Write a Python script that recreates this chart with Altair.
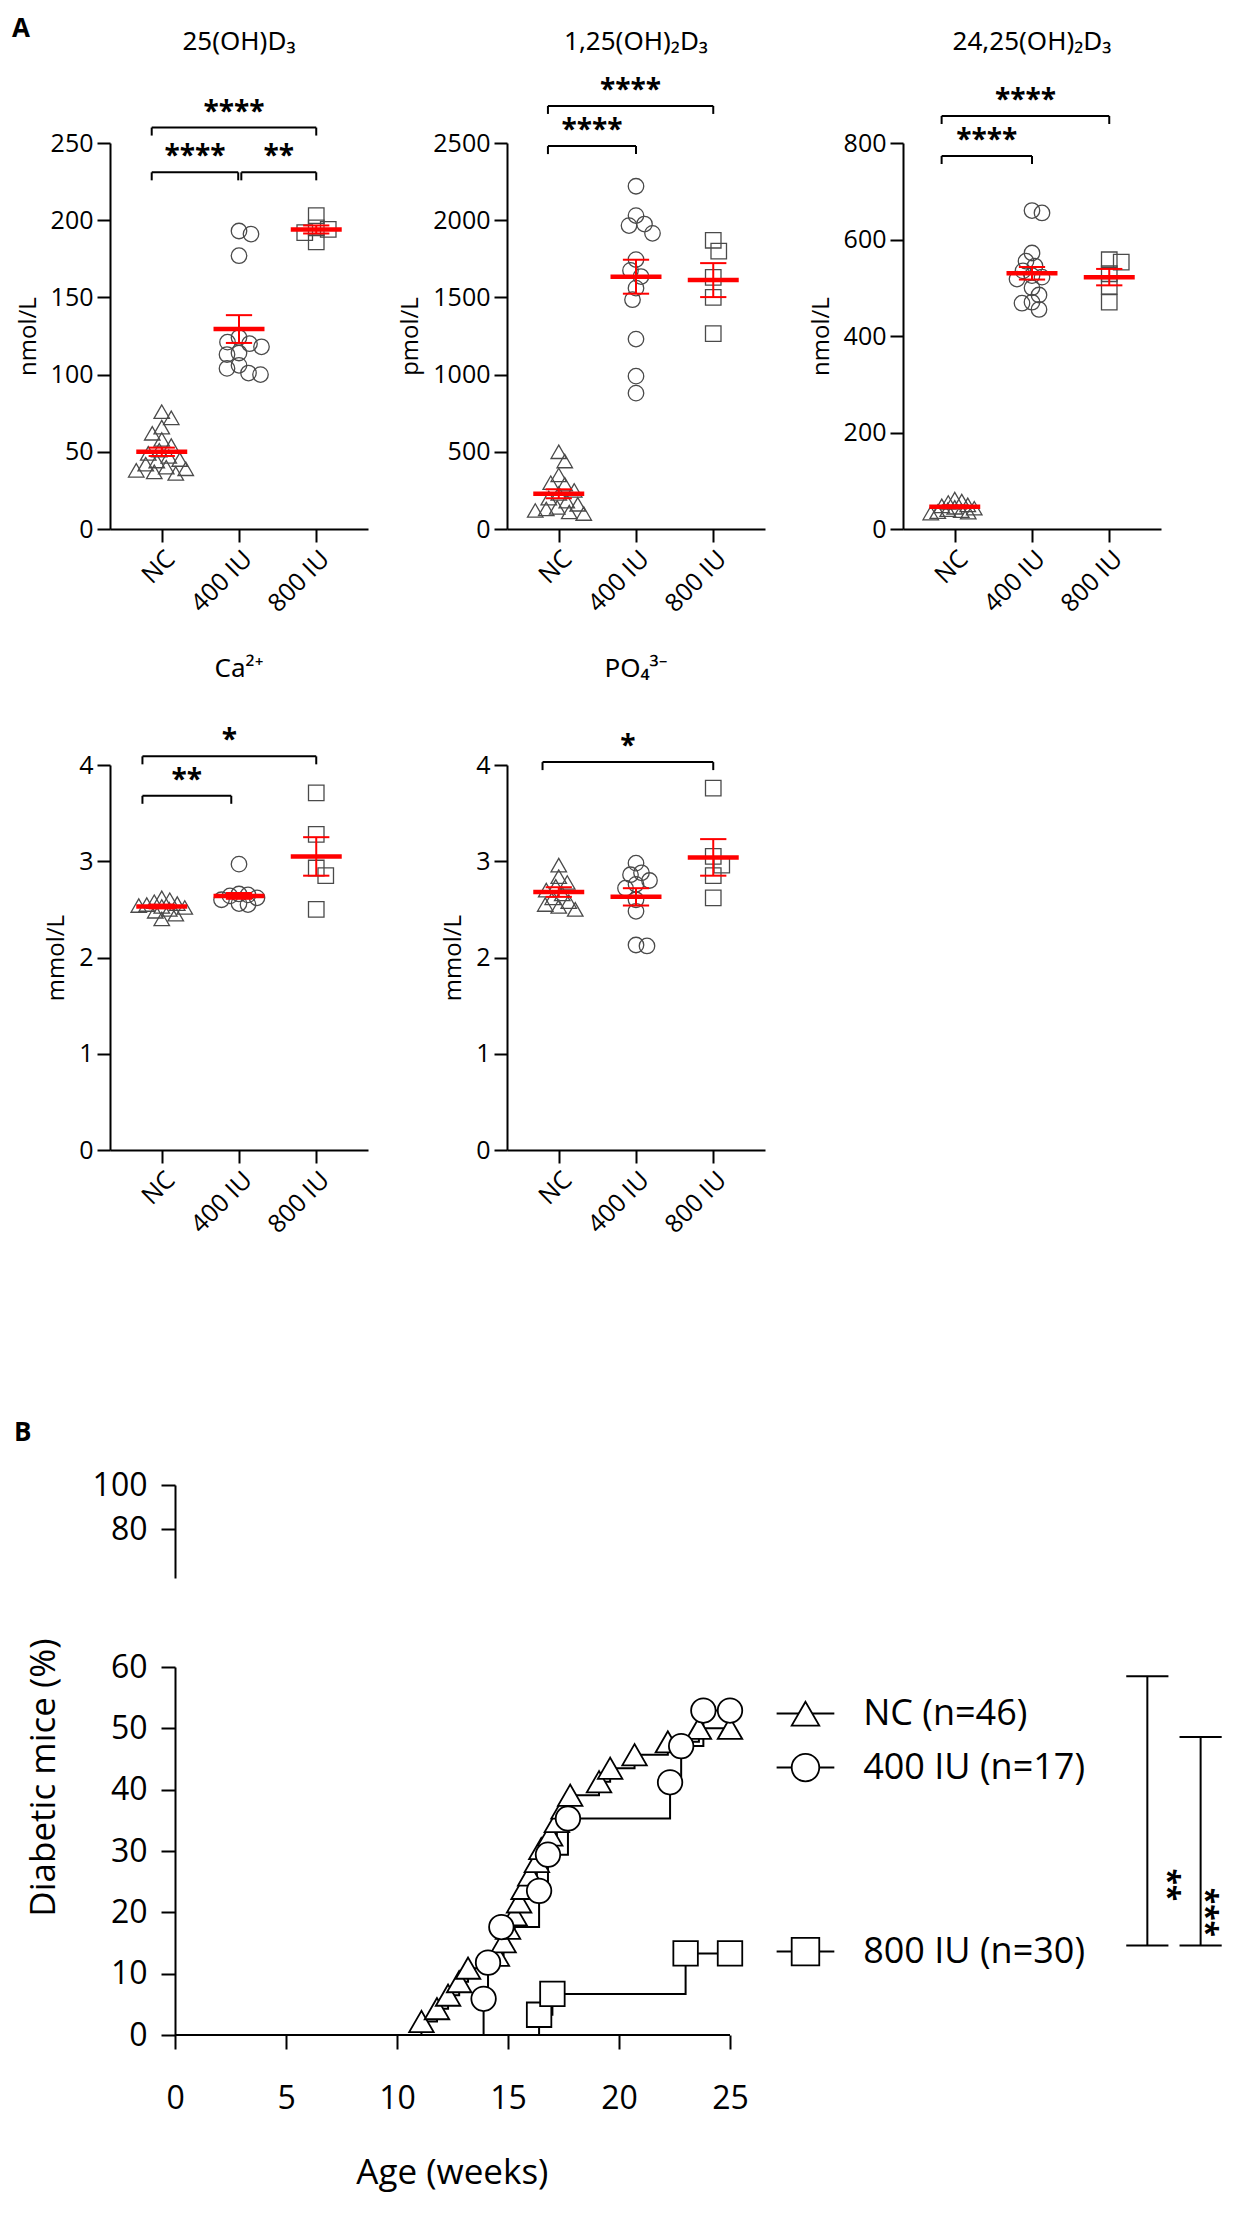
import altair as alt
import pandas as pd

FONT = "Open Sans"
TFONT = "Noto Sans"
RED = "#ff0000"
PTC = "#4a4a4a"
GROUPS = ["NC", "400 IU", "800 IU"]
SHAPES = ["triangle-up", "circle", "square"]

# ---------------- Panel A data ----------------
oh25_nc = [76, 72, 66, 62, 58, 54, 51, 49, 47, 45, 44, 42, 40, 39, 38, 37, 36]
oh25_400 = [193, 191, 177, 124, 121, 120, 118, 114, 113, 106, 104, 101, 100]
oh25_800 = [203, 186, 195, 192, 194]
oh25_mean = [50, 129.5, 194]
oh25_sem = [2.7, 9, 2.6]
oh25_br_x1 = [-0.13, -0.13, 1.03]
oh25_br_x2 = [2.0, 0.99, 2.0]
oh25_br_y = [260, 231, 231]
oh25_br_s = ["****", "****", "**"]

d125_nc = [500, 440, 350, 300, 290, 250, 230, 200, 180, 160, 140, 130, 120, 110, 100]
d125_400 = [2220, 2030, 1965, 1975, 1915, 1745, 1635, 1675, 1560, 1485, 1230, 990, 880]
d125_800 = [1870, 1800, 1630, 1500, 1265]
d125_mean = [228, 1634, 1612]
d125_sem = [29, 110, 110]
d125_br_x1 = [-0.14, -0.14]
d125_br_x2 = [2.0, 1.0]
d125_br_y = [2740, 2480]
d125_br_s = ["****", "****"]

d2425_nc = [62, 58, 55, 50, 48, 45, 43, 40, 38, 36, 35, 33]
d2425_400 = [660, 655, 572, 555, 545, 535, 525, 522, 518, 500, 485, 470, 468, 455]
d2425_800 = [558, 553, 529, 503, 470]
d2425_mean = [46, 530, 522]
d2425_sem = [3, 13, 17]
d2425_br_x1 = [-0.17, -0.17]
d2425_br_x2 = [2.0, 1.0]
d2425_br_y = [856, 773]
d2425_br_s = ["****", "****"]

ca_nc = [2.62, 2.60, 2.58, 2.56, 2.55, 2.54, 2.53, 2.52, 2.50, 2.48, 2.45, 2.40]
ca_400 = [2.97, 2.66, 2.65, 2.64, 2.62, 2.60, 2.56, 2.55]
ca_800 = [3.71, 3.28, 2.93, 2.85, 2.50]
ca_mean = [2.53, 2.64, 3.05]
ca_sem = [0.02, 0.03, 0.2]
ca_br_x1 = [-0.25, -0.25]
ca_br_x2 = [2.0, 0.9]
ca_br_y = [4.09, 3.68]
ca_br_s = ["*", "**"]

po4_nc = [2.96, 2.84, 2.78, 2.74, 2.70, 2.66, 2.62, 2.58, 2.55, 2.53, 2.50]
po4_400 = [2.98, 2.88, 2.86, 2.80, 2.76, 2.72, 2.60, 2.48, 2.13, 2.12]
po4_800 = [3.76, 3.05, 2.96, 2.85, 2.62]
po4_mean = [2.68, 2.63, 3.04]
po4_sem = [0.05, 0.09, 0.19]
po4_br_x1 = [-0.21]
po4_br_x2 = [2.0]
po4_br_y = [4.03]
po4_br_s = ["*"]

# ---------------- Panel B data ----------------
nc_t = [11.1, 11.8, 12.3, 12.8, 13.2, 14.5, 14.8, 15.0, 15.3, 15.5, 15.7, 16.0,
        16.3, 16.5, 16.9, 17.2, 17.5, 17.8, 19.1, 19.6, 20.7, 22.2, 23.6, 25.0]
nc_p = [2.2, 4.3, 6.5, 8.7, 10.9, 13.0, 15.2, 17.4, 19.6, 21.7, 23.9, 26.1,
        28.3, 30.4, 32.6, 34.8, 37.0, 39.1, 41.3, 43.5, 45.7, 47.8, 50.0, 50.0]
iu400_t = [13.9, 14.1, 14.7, 16.4, 16.8, 17.7, 22.3, 22.8, 23.8, 25.0]
iu400_p = [5.9, 11.8, 17.6, 23.5, 29.4, 35.3, 41.2, 47.1, 52.9, 52.9]
iu800_t = [16.4, 17.0, 23.0, 25.0]
iu800_p = [3.3, 6.7, 13.3, 13.3]
legend_labels = ["NC (n=46)", "400 IU (n=17)", "800 IU (n=30)"]
legend_y = [52.4, 43.6, 13.6]
sig_x = [43.8, 46.2]
sig_top = [58.5, 48.6]
sig_bot = [14.6, 14.6]
sig_star_x = [44.7, 46.4]
sig_star_y = [24.5, 20.0]
sig_stars = ["**", "***"]

# ---------------- layout helpers ----------------
AW = 258
XDOM = [-0.67, 2.67]
PPX = AW / (XDOM[1] - XDOM[0])


def swarm(vals, ppu_y, d):
    order = sorted(range(len(vals)), key=lambda i: -vals[i])
    placed = []
    offs = [0.0] * len(vals)
    flip = 1
    for i in order:
        y = vals[i] * ppu_y
        k = 0
        while True:
            cands = [0.0] if k == 0 else [flip * k * 0.5, -flip * k * 0.5]
            ok = None
            for cx in cands:
                if all((cx - a) ** 2 + (y - b) ** 2 >= d * d for a, b in placed):
                    ok = cx
                    break
            if ok is not None:
                break
            k += 1
        if ok != 0:
            flip = -flip
        placed.append((ok, y))
        offs[i] = ok / PPX
    return offs


def frame(W, H, L, R, T, B):
    return alt.Chart(pd.DataFrame({"a": [0]})).mark_rect(opacity=0).encode(
        x=alt.value(-L), x2=alt.value(W + R), y=alt.value(-T), y2=alt.value(H + B)
    )


def panel_a(vals, mean, sem, bx1, bx2, by, bs, title, ytitle, ymax, ystep, H,
            L, R, T, B, title_y, dmin, label=None):
    xs = alt.Scale(domain=XDOM, nice=False, zero=False)
    ys = alt.Scale(domain=[0, ymax], nice=False, zero=False)
    rows = []
    for g, vs in enumerate(vals):
        offs = swarm(vs, H / ymax, dmin[g])
        for v, o in zip(vs, offs):
            rows.append({"x": g + o, "v": v, "grp": GROUPS[g]})
    pts_df = pd.DataFrame(rows)
    ticks = []
    t = 0
    while t <= ymax + 1e-9:
        ticks.append(t)
        t += ystep
    xax = alt.Axis(values=[0, 1, 2], labelExpr="['NC','400 IU','800 IU'][datum.value]",
                   labelAngle=-45, title="")
    yax = alt.Axis(values=ticks, title=ytitle, format="d")

    def X(f):
        return alt.X(f, scale=xs, axis=xax)

    def Y(f):
        return alt.Y(f, scale=ys, axis=yax)

    pts = alt.Chart(pts_df).mark_point(filled=False, size=240, strokeWidth=1.3,
                                       color=PTC, opacity=1).encode(
        x=X("x:Q"), y=Y("v:Q"),
        shape=alt.Shape("grp:N", scale=alt.Scale(domain=GROUPS, range=SHAPES), legend=None),
    )
    mdf = pd.DataFrame({"x1": [g - 0.33 for g in range(3)], "x2": [g + 0.33 for g in range(3)],
                        "m": mean})
    mean_l = alt.Chart(mdf).mark_rule(color=RED, strokeWidth=4.5).encode(
        x=X("x1:Q"), x2="x2:Q", y=Y("m:Q"))
    sdf = pd.DataFrame({"g": [0, 1, 2], "lo": [m - s for m, s in zip(mean, sem)],
                        "hi": [m + s for m, s in zip(mean, sem)]})
    sem_v = alt.Chart(sdf).mark_rule(color=RED, strokeWidth=2).encode(
        x=X("g:Q"), y=Y("lo:Q"), y2="hi:Q")
    crow = []
    for g, (m, s) in enumerate(zip(mean, sem)):
        crow.append({"c1": g - 0.17, "c2": g + 0.17, "cy": m - s})
        crow.append({"c1": g - 0.17, "c2": g + 0.17, "cy": m + s})
    caps = alt.Chart(pd.DataFrame(crow)).mark_rule(color=RED, strokeWidth=2).encode(
        x=X("c1:Q"), x2="c2:Q", y=Y("cy:Q"))
    bdf = pd.DataFrame({"x1": bx1, "x2": bx2, "y": by, "s": bs,
                        "cx": [(a + b) / 2 for a, b in zip(bx1, bx2)]})
    br_h = alt.Chart(bdf).mark_rule(color="black", strokeWidth=2).encode(
        x=X("x1:Q"), x2="x2:Q", y=Y("y:Q"))
    trow = []
    for a, b, yy in zip(bx1, bx2, by):
        trow.append({"tx": a, "y": yy})
        trow.append({"tx": b, "y": yy})
    br_t = alt.Chart(pd.DataFrame(trow)).mark_rule(color="black", strokeWidth=2, y2Offset=8).encode(
        x=X("tx:Q"), y=Y("y:Q"), y2="y:Q")
    stars = alt.Chart(bdf).mark_text(font=FONT, fontSize=28, fontWeight="bold", color="black",
                                     baseline="alphabetic", align="center", dy=-7).encode(
        x=X("cx:Q"), y=Y("y:Q"), text="s:N")
    ttl = alt.Chart(pd.DataFrame({"t": [title]})).mark_text(
        font=TFONT, fontSize=26, color="black", align="center", baseline="alphabetic").encode(
        x=alt.value(AW / 2), y=alt.value(title_y), text="t:N")
    layers = [frame(AW, H, L, R, T, B), pts, mean_l, sem_v, caps, br_h, br_t, stars, ttl]
    if label:
        layers.append(alt.Chart(pd.DataFrame({"t": [label]})).mark_text(
            font=FONT, fontSize=26, fontWeight="bold", color="black", align="left",
            baseline="top").encode(x=alt.value(-98), y=alt.value(-127), text="t:N"))
    return alt.layer(*layers).properties(width=AW, height=H)


H1 = 386
H2 = 385
p1 = panel_a([oh25_nc, oh25_400, oh25_800], oh25_mean, oh25_sem, oh25_br_x1, oh25_br_x2,
             oh25_br_y, oh25_br_s, "25(OH)D₃", "nmol/L", 250, 50, H1, 102, 15, 135, 106, -93,
             [11, 12, 12], label="A")
p2 = panel_a([d125_nc, d125_400, d125_800], d125_mean, d125_sem, d125_br_x1, d125_br_x2,
             d125_br_y, d125_br_s, "1,25(OH)₂D₃", "pmol/L", 2500, 500, H1, 120, 14, 135, 106, -93,
             [11, 12, 12])
p3 = panel_a([d2425_nc, d2425_400, d2425_800], d2425_mean, d2425_sem, d2425_br_x1, d2425_br_x2,
             d2425_br_y, d2425_br_s, "24,25(OH)₂D₃", "nmol/L", 800, 200, H1, 120, 15, 135, 106, -93,
             [7, 10, 12])
p4 = panel_a([ca_nc, ca_400, ca_800], ca_mean, ca_sem, ca_br_x1, ca_br_x2, ca_br_y, ca_br_s,
             "Ca²⁺", "mmol/L", 4, 1, H2, 102, 15, 130, 150, -88, [8, 9, 12])
p5 = panel_a([po4_nc, po4_400, po4_800], po4_mean, po4_sem, po4_br_x1, po4_br_x2, po4_br_y,
             po4_br_s, "PO₄³⁻", "mmol/L", 4, 1, H2, 120, 15, 130, 150, -88, [10, 11, 12])

row1 = alt.hconcat(p1, p2, p3, spacing=4)
row2 = alt.hconcat(p4, p5, spacing=4)

# ---------------- Panel B ----------------
PPW = 22.19          # px per week
YOFF = 65            # y axis sits this far inside the view (aligns with panel A)
BW = int(round(YOFF + 25 * PPW))
BXMIN = -YOFF / PPW
BH_TOP = 93
BH = 368
BR = 1229 - 110 - BW   # frame reaches the right edge of the page
B_AX = dict(domainWidth=2, domainColor="black", tickColor="black", tickWidth=2, tickSize=14,
            labelFont=FONT, labelFontSize=32, labelColor="black",
            labelFlush=False, labelOverlap=False, grid=False)

top_axis_pt = alt.Chart(pd.DataFrame({"v": [100]})).mark_point(opacity=0).encode(
    x=alt.value(YOFF),
    y=alt.Y("v:Q", scale=alt.Scale(domain=[58, 100], nice=False, zero=False),
            axis=alt.Axis(values=[80, 100], title="", offset=-YOFF, labelPadding=14, **B_AX)))
b_label = alt.Chart(pd.DataFrame({"t": ["B"]})).mark_text(
    font=FONT, fontSize=26, fontWeight="bold", color="black", align="left",
    baseline="alphabetic").encode(x=alt.value(-96), y=alt.value(-44), text="t:N")
btop = alt.layer(frame(BW, BH_TOP, 102, BR, 185, 45), top_axis_pt, b_label).properties(
    width=BW, height=BH_TOP)

bxs = alt.Scale(domain=[BXMIN, 25], nice=False, zero=False)
bys = alt.Scale(domain=[0, 60], nice=False, zero=False)
bxax = alt.Axis(values=[0, 5, 10, 15, 20, 25], title="", domain=False, labelPadding=34, **B_AX)
byax = alt.Axis(values=[0, 10, 20, 30, 40, 50, 60], title="Diabetic mice (%)", titleFont=FONT,
                titleFontSize=35, titleFontWeight="normal", titleColor="black", titleX=-132,
                titleY=110, titleAngle=270, titleAlign="center", titleBaseline="middle",
                offset=-YOFF, labelPadding=14, **B_AX)


def BX(f):
    return alt.X(f, scale=bxs, axis=bxax)


def BY(f):
    return alt.Y(f, scale=bys, axis=byax)


curve_rows = []
for gname, ts, ps in [(GROUPS[0], nc_t, nc_p), (GROUPS[1], iu400_t, iu400_p),
                      (GROUPS[2], iu800_t, iu800_p)]:
    curve_rows.append({"t": 0.0, "p": 0.0, "grp": gname, "i": 0, "mk": False})
    for i, (tt, pp) in enumerate(zip(ts, ps)):
        curve_rows.append({"t": tt, "p": pp, "grp": gname, "i": i + 1, "mk": True})
cdf = pd.DataFrame(curve_rows)
shape_enc = alt.Shape("grp:N", scale=alt.Scale(domain=GROUPS, range=SHAPES), legend=None)

xline = alt.Chart(pd.DataFrame({"a": [0.0], "b": [25.0], "y": [0.0]})).mark_rule(
    color="black", strokeWidth=2).encode(x=BX("a:Q"), x2="b:Q", y=BY("y:Q"))
curves = alt.Chart(cdf).mark_line(interpolate="step-after", color="black", strokeWidth=2).encode(
    x=BX("t:Q"), y=BY("p:Q"), detail="grp:N", order="i:Q")
markers = alt.Chart(cdf[cdf["mk"]]).mark_point(filled=True, fill="white", stroke="black",
                                               strokeWidth=1.8, size=600, opacity=1).encode(
    x=BX("t:Q"), y=BY("p:Q"), shape=shape_enc)

ldf = pd.DataFrame({"grp": GROUPS, "ly": legend_y, "lab": legend_labels,
                    "l1": [27.1] * 3, "l2": [29.7] * 3, "lm": [28.4] * 3, "lt": [31.0] * 3})
leg_line = alt.Chart(ldf).mark_rule(color="black", strokeWidth=2).encode(
    x=BX("l1:Q"), x2="l2:Q", y=BY("ly:Q"))
leg_sym = alt.Chart(ldf).mark_point(filled=True, fill="white", stroke="black", strokeWidth=1.8,
                                    size=760, opacity=1).encode(
    x=BX("lm:Q"), y=BY("ly:Q"), shape=shape_enc)
leg_txt = alt.Chart(ldf).mark_text(font=FONT, fontSize=36, color="black", align="left",
                                   baseline="middle").encode(
    x=BX("lt:Q"), y=BY("ly:Q"), text="lab:N")

sdf = pd.DataFrame({"bx": sig_x, "y1": sig_bot, "y2": sig_top})
sig_v = alt.Chart(sdf).mark_rule(color="black", strokeWidth=2).encode(
    x=BX("bx:Q"), y=BY("y1:Q"), y2="y2:Q")
caprows = []
for bx, a, b in zip(sig_x, sig_bot, sig_top):
    caprows.append({"c1": bx - 0.95, "c2": bx + 0.95, "cy": a})
    caprows.append({"c1": bx - 0.95, "c2": bx + 0.95, "cy": b})
sig_c = alt.Chart(pd.DataFrame(caprows)).mark_rule(color="black", strokeWidth=2).encode(
    x=BX("c1:Q"), x2="c2:Q", y=BY("cy:Q"))
stdf = pd.DataFrame({"sx": sig_star_x, "sy": sig_star_y, "s": sig_stars})
sig_s = alt.Chart(stdf).mark_text(font=FONT, fontSize=30, fontWeight="bold", color="black",
                                  angle=90, align="center", baseline="middle").encode(
    x=BX("sx:Q"), y=BY("sy:Q"), text="s:N")
xtitle = alt.Chart(pd.DataFrame({"t": ["Age (weeks)"]})).mark_text(
    font=FONT, fontSize=35, color="black", align="center", baseline="middle").encode(
    x=alt.value(YOFF + 12.5 * PPW), y=alt.value(BH + 138), text="t:N")

bbot = alt.layer(frame(BW, BH, 102, BR, 44, 166), xline, curves, markers, leg_line, leg_sym,
                 leg_txt, sig_v, sig_c, sig_s, xtitle).properties(width=BW, height=BH)

chart = alt.vconcat(row1, row2, btop, bbot, spacing=0).properties(padding=0).configure_view(
    strokeWidth=0).configure_axis(
    domainWidth=2, domainColor="black", tickColor="black", tickWidth=2, tickSize=13,
    labelFont=FONT, labelFontSize=25, labelColor="black", labelPadding=4,
    titleFont=FONT, titleFontSize=24, titleFontWeight="normal", titleColor="black",
    titlePadding=10, grid=False, labelFlush=False, labelOverlap=False)

chart.save("out.html", embed_options={"renderer": "svg", "actions": False})
